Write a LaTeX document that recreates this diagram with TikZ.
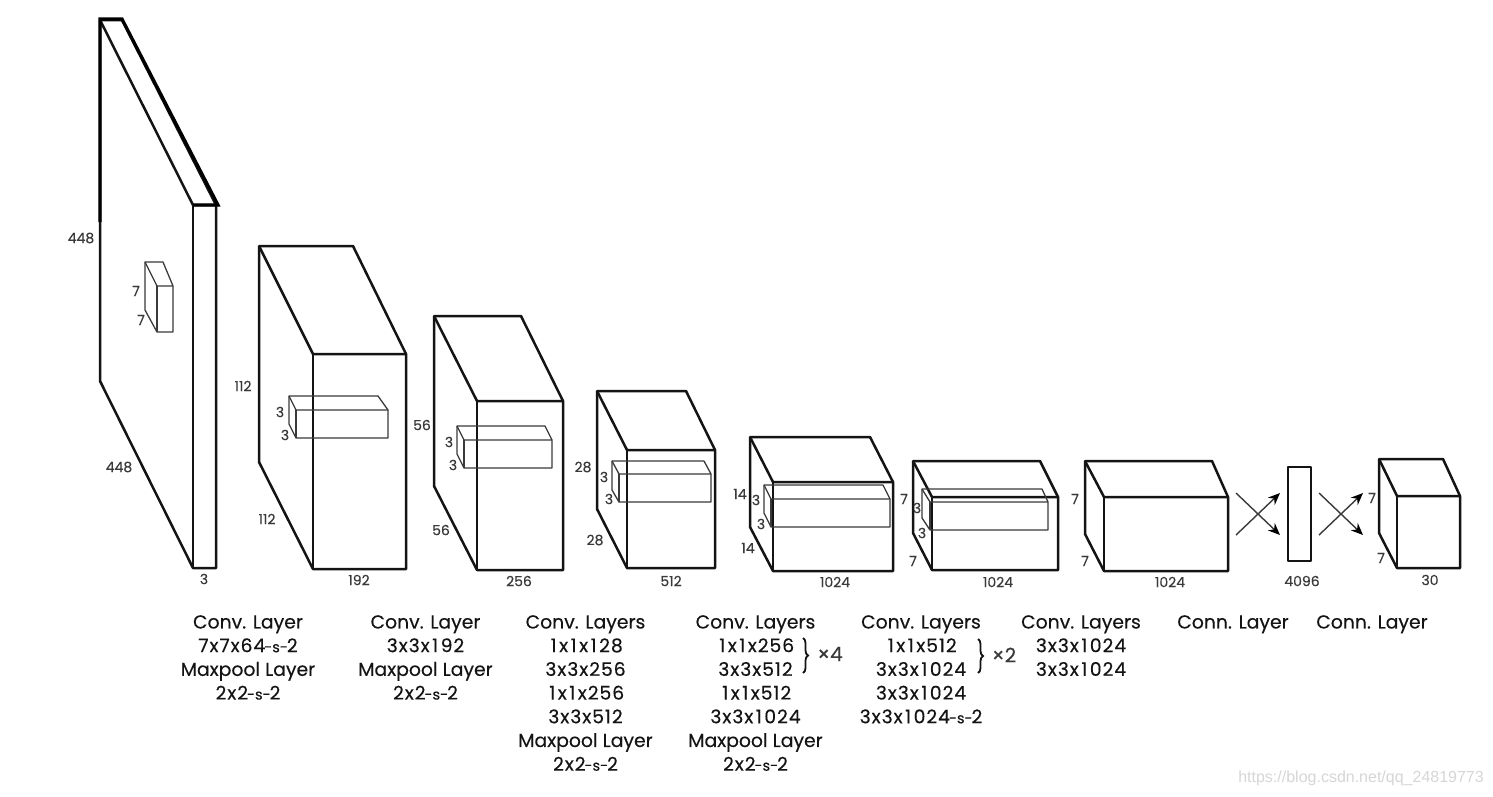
\documentclass[tikz,border=0pt]{standalone}
\usepackage{fontspec}
\setmainfont{Poppins}[FakeBold=0.25]
\newfontfamily\wmfont{Liberation Sans}
\usetikzlibrary{arrows.meta,decorations.pathreplacing}
\definecolor{ink}{HTML}{141414}
\definecolor{soft}{HTML}{3A3A3A}
\tikzset{
  outline/.style={draw=ink,line width=2.5pt,line join=round},
  thickline/.style={draw=black,line width=3.2pt,line join=miter},
  kernel/.style={draw=soft,line width=1.3pt,line join=round},
  dimlabel/.style={text=soft,font=\fontsize{14}{16}\selectfont,inner sep=0pt},
  layertext/.style={text=ink,font=\fontsize{18.8}{23.7}\selectfont,align=center,anchor=north,inner sep=0pt},
  multlabel/.style={text=soft,font=\fontsize{20}{22}\selectfont,inner sep=0pt},
  bracket/.style={draw=ink,line width=1.8pt,decorate,decoration={brace,amplitude=5pt}},
  link/.style={draw=soft,line width=1.4pt,-{Stealth[length=12pt,width=10pt,color=black]}}
}
\newcommand{\numline}[1]{{\addfontfeature{LetterSpace=5}#1}}
\newcommand{\wideone}{\kern2.5pt 1\kern2.5pt}
\newcommand{\strsuffix}{{\fontsize{14.5}{23.7}\selectfont\kern-1pt-s-\kern-1pt}}
% back-top-left, back-top-right, front-top-left, front-top-right, front-bottom-left, front-bottom-right, back-bottom-left, style
\newcommand{\cuboidbox}[8]{%
  \draw[#8] #1 -- #2 -- #4 -- #6 -- #5 -- #7 -- cycle;
  \draw[#8] #1 -- #3 -- #4;
  \draw[#8] #3 -- #5;
}
\begin{document}
\begin{tikzpicture}[x=1pt,y=-1pt]
\useasboundingbox[fill=white] (0,0) rectangle (1493,796);

% Layer 1
\cuboidbox{(100,20)}{(122,20)}{(193,205)}{(216,205)}{(193,568)}{(216,568)}{(100,381)}{outline}
\draw[thickline] (100,222) -- (100,19) -- (122,19) -- (218,205) -- (193,205);
\cuboidbox{(145,262)}{(163,262)}{(157,286)}{(173,286)}{(157,332)}{(173,332)}{(145,310)}{kernel}

% Layer 2
\cuboidbox{(259,246)}{(353,246)}{(313,354)}{(406,354)}{(313,569)}{(406,569)}{(259,462)}{outline}
\cuboidbox{(289,396)}{(378,396)}{(296,410)}{(388,410)}{(296,438)}{(388,438)}{(289,424)}{kernel}

% Layer 3
\cuboidbox{(434,316)}{(521,316)}{(477,401)}{(563,401)}{(477,570)}{(563,570)}{(434,486)}{outline}
\cuboidbox{(457,426)}{(545,426)}{(464,440)}{(552,440)}{(464,468)}{(552,468)}{(457,454)}{kernel}

% Layer 4
\cuboidbox{(597,391)}{(686,391)}{(627,450)}{(715,450)}{(627,568)}{(715,568)}{(597,509)}{outline}
\cuboidbox{(612,461)}{(704,461)}{(619,474)}{(711,474)}{(619,502)}{(711,502)}{(612,490)}{kernel}

% Layer 5
\cuboidbox{(750,437)}{(870,437)}{(773,482)}{(893,482)}{(773,571)}{(893,571)}{(750,527)}{outline}
\cuboidbox{(764,485)}{(883,485)}{(771,499)}{(890,499)}{(771,527)}{(890,527)}{(764,513)}{kernel}

% Layer 6
\cuboidbox{(913,461)}{(1040,461)}{(932,497)}{(1058,497)}{(932,570)}{(1058,570)}{(913,533)}{outline}
\cuboidbox{(922,489)}{(1042,489)}{(930,502)}{(1048,502)}{(930,530)}{(1048,530)}{(922,518)}{kernel}

% Layer 7
\cuboidbox{(1085,461)}{(1212,461)}{(1104,497)}{(1228,497)}{(1104,571)}{(1228,571)}{(1085,534)}{outline}

% Fully connected rectangle
\draw[outline] (1288,467) rectangle (1311,561);

% Layer 8
\cuboidbox{(1379,459)}{(1443,459)}{(1397,496)}{(1460,496)}{(1397,568)}{(1460,568)}{(1379,533)}{outline}

% Crossing connectors
\coordinate (c1a) at (1236,493);
\coordinate (c1b) at (1280,535);
\coordinate (c1c) at (1236,535);
\coordinate (c1d) at (1280,493);
\coordinate (c2a) at (1319,493);
\coordinate (c2b) at (1363,535);
\coordinate (c2c) at (1319,535);
\coordinate (c2d) at (1363,493);
\draw[link] (c1a) -- (c1b);
\draw[link] (c1c) -- (c1d);
\draw[link] (c2a) -- (c2b);
\draw[link] (c2c) -- (c2d);

% Dimension labels
\node[dimlabel] (d1) at (81,238) {448};
\node[dimlabel] (d2) at (119,467) {448};
\node[dimlabel] (d3) at (136,291) {7};
\node[dimlabel] (d4) at (141,320) {7};
\node[dimlabel] (d5) at (204,579) {3};
\node[dimlabel] (d6) at (243,386) {112};
\node[dimlabel] (d7) at (267,519) {112};
\node[dimlabel] (d8) at (280,412) {3};
\node[dimlabel] (d9) at (285,435) {3};
\node[dimlabel] (d10) at (359,580) {192};
\node[dimlabel] (d11) at (422,425) {56};
\node[dimlabel] (d12) at (441,530) {56};
\node[dimlabel] (d13) at (449,442) {3};
\node[dimlabel] (d14) at (453,465) {3};
\node[dimlabel] (d15) at (519,581) {256};
\node[dimlabel] (d16) at (583,467) {28};
\node[dimlabel] (d17) at (595,540) {28};
\node[dimlabel] (d18) at (604,477) {3};
\node[dimlabel] (d19) at (609,499) {3};
\node[dimlabel] (d20) at (671,581) {512};
\node[dimlabel] (d21) at (740,494) {14};
\node[dimlabel] (d22) at (748,548) {14};
\node[dimlabel] (d23) at (756,500) {3};
\node[dimlabel] (d24) at (761,524) {3};
\node[dimlabel] (d25) at (835,582) {1024};
\node[dimlabel] (d26) at (904,499) {7};
\node[dimlabel] (d27) at (913,561) {7};
\node[dimlabel] (d28) at (917,508) {3};
\node[dimlabel] (d29) at (922,533) {3};
\node[dimlabel] (d30) at (998,582) {1024};
\node[dimlabel] (d31) at (1075,499) {7};
\node[dimlabel] (d32) at (1085,561) {7};
\node[dimlabel] (d33) at (1170,582) {1024};
\node[dimlabel] (d34) at (1302,581) {4096};
\node[dimlabel] (d35) at (1372,498) {7};
\node[dimlabel] (d36) at (1381,558) {7};
\node[dimlabel] (d37) at (1430,580) {30};

% Layer descriptions
\node[layertext] (t1) at (248,615) {Conv. Layer\\\numline{7x7x64}\strsuffix 2\\Maxpool Layer\\\numline{2x2}\strsuffix 2};
\node[layertext] (t2) at (425.5,615) {Conv. Layer\\\numline{3x3x\wideone 92}\\Maxpool Layer\\\numline{2x2}\strsuffix 2};
\node[layertext] (t3) at (585.5,615) {Conv. Layers\\\numline{\wideone x\wideone x\wideone 28}\\\numline{3x3x256}\\\numline{\wideone x\wideone x256}\\\numline{3x3x512}\\Maxpool Layer\\\numline{2x2}\strsuffix 2};
\node[layertext] (t4) at (755.5,615) {Conv. Layers\\\numline{\wideone x\wideone x256}\\\numline{3x3x512}\\\numline{\wideone x\wideone x512}\\\numline{3x3x\wideone 024}\\Maxpool Layer\\\numline{2x2}\strsuffix 2};
\node[layertext] (t5) at (921,615) {Conv. Layers\\\numline{\wideone x\wideone x512}\\\numline{3x3x\wideone 024}\\\numline{3x3x\wideone 024}\\\numline{3x3x\wideone 024}\strsuffix 2};
\node[layertext] (t6) at (1081,615) {Conv. Layers\\\numline{3x3x\wideone 024}\\\numline{3x3x\wideone 024}};
\node[layertext] (t7) at (1233,615) {Conn. Layer};
\node[layertext] (t8) at (1372,615) {Conn. Layer};

% Repeat brackets
\coordinate (b1a) at (803,638);
\coordinate (b1b) at (803,673);
\coordinate (b2a) at (978,639);
\coordinate (b2b) at (978,673);
\draw[bracket] (b1a) -- (b1b);
\draw[bracket] (b2a) -- (b2b);
\node[multlabel] (m1) at (830,654) {×4};
\node[multlabel] (m2) at (1004,655) {×2};

% Watermark
\node[text=black!16,font=\wmfont\fontsize{16}{18}\selectfont,anchor=east,inner sep=0pt] (wm) at (1484,778) {https://blog.csdn.net/qq\_24819773};
\end{tikzpicture}
\end{document}
